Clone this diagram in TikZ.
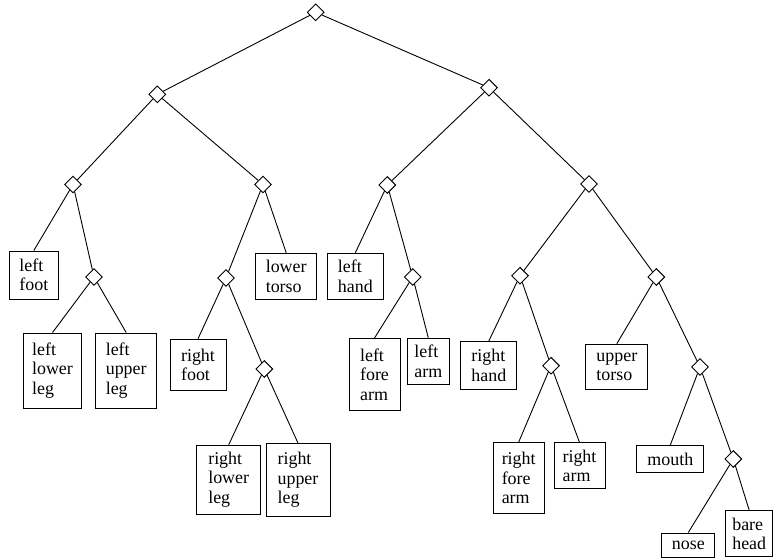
\documentclass[tikz,border=0pt]{standalone}
\usepackage{fontspec}
\setmainfont{Liberation Serif}
\usetikzlibrary{shapes.geometric}
\begin{document}
\begin{tikzpicture}[x=1bp,y=-1bp,
  every path/.style={line width=0.9bp},
  dnode/.style={draw,diamond,inner sep=0pt,minimum width=17bp,minimum height=17bp,line width=0.9bp},
  leaf/.style={draw,rectangle,inner sep=0pt,align=left,line width=0.9bp,font=\fontsize{18}{19.5}\selectfont},
  edge/.style={draw,line width=0.9bp}]
\useasboundingbox (0,0) rectangle (773,558);
% diamonds
\node[dnode] (root) at (315.7,12.3) {};
\node[dnode] (L1) at (157.3,94.3) {};
\node[dnode] (R1) at (489,87.7) {};
\node[dnode] (LL) at (73,184.5) {};
\node[dnode] (LR) at (263,184.5) {};
\node[dnode] (RL) at (387.3,185) {};
\node[dnode] (RR) at (589,184) {};
\node[dnode] (LLR) at (94,277) {};
\node[dnode] (LRL) at (226,278) {};
\node[dnode] (LRLR) at (264.3,369) {};
\node[dnode] (RLR) at (412.7,277) {};
\node[dnode] (RRL) at (520,275.7) {};
\node[dnode] (RRLR) at (551,365.7) {};
\node[dnode] (RRR) at (656.3,277) {};
\node[dnode] (RRRR) at (700,367) {};
\node[dnode] (RRRRR) at (733.3,459) {};
% leaves
\node[leaf,minimum width=49bp,minimum height=48bp] (leftfoot) at (33.8,275) {left\\foot};
\node[leaf,minimum width=58bp,minimum height=75bp] (leftlowerleg) at (52.5,370.5) {left\\lower\\leg};
\node[leaf,minimum width=61bp,minimum height=75bp] (leftupperleg) at (126.2,370.5) {left\\upper\\leg};
\node[leaf,minimum width=61bp,minimum height=46bp] (lowertorso) at (286.2,276.2) {lower\\torso};
\node[leaf,minimum width=56bp,minimum height=51bp] (rightfoot) at (198,364.7) {right\\foot};
\node[leaf,minimum width=64bp,minimum height=69bp] (rightlowerleg) at (228.7,479.7) {right\\lower\\leg};
\node[leaf,minimum width=64bp,minimum height=73bp] (rightupperleg) at (298,480) {right\\upper\\leg};
\node[leaf,minimum width=56bp,minimum height=46bp] (lefthand) at (355.3,276.3) {left\\hand};
\node[leaf,minimum width=51bp,minimum height=72bp] (leftforearm) at (374.5,374.5) {left\\fore\\arm};
\node[leaf,minimum width=42bp,minimum height=46bp] (leftarm) at (428.3,361.3) {left\\arm};
\node[leaf,minimum width=56bp,minimum height=48bp] (righthand) at (488.8,365.5) {right\\hand};
\node[leaf,minimum width=51bp,minimum height=71bp] (rightforearm) at (518.7,478) {right\\fore\\arm};
\node[leaf,minimum width=51bp,minimum height=46bp] (rightarm) at (579.5,465.8) {right\\arm};
\node[leaf,minimum width=62bp,minimum height=45bp] (uppertorso) at (616.8,366.7) {upper\\torso};
\node[leaf,minimum width=67bp,minimum height=27bp] (mouth) at (670.3,459) {mouth};
\node[leaf,minimum width=53bp,minimum height=24bp] (nose) at (688.3,545) {nose};
\node[leaf,minimum width=47bp,minimum height=46bp] (barehead) at (749.2,533.7) {bare\\head};
% edges
\draw[edge] (root) -- (L1);
\draw[edge] (root) -- (R1);
\draw[edge] (L1) -- (LL);
\draw[edge] (L1) -- (LR);
\draw[edge] (LL) -- (leftfoot.north);
\draw[edge] (LL) -- (LLR);
\draw[edge] (LLR) -- (leftlowerleg.north);
\draw[edge] (LLR) -- (leftupperleg.north);
\draw[edge] (LR) -- (LRL);
\draw[edge] (LR) -- (lowertorso.north);
\draw[edge] (LRL) -- (rightfoot.north);
\draw[edge] (LRL) -- (LRLR);
\draw[edge] (LRLR) -- (rightlowerleg.north);
\draw[edge] (LRLR) -- (rightupperleg.north);
\draw[edge] (R1) -- (RL);
\draw[edge] (R1) -- (RR);
\draw[edge] (RL) -- (lefthand.north);
\draw[edge] (RL) -- (RLR);
\draw[edge] (RLR) -- (leftforearm.north);
\draw[edge] (RLR) -- (leftarm.north);
\draw[edge] (RR) -- (RRL);
\draw[edge] (RR) -- (RRR);
\draw[edge] (RRL) -- (righthand.north);
\draw[edge] (RRL) -- (RRLR);
\draw[edge] (RRLR) -- (rightforearm.north);
\draw[edge] (RRLR) -- (rightarm.north);
\draw[edge] (RRR) -- (uppertorso.north);
\draw[edge] (RRR) -- (RRRR);
\draw[edge] (RRRR) -- (mouth.north);
\draw[edge] (RRRR) -- (RRRRR);
\draw[edge] (RRRRR) -- (nose.north);
\draw[edge] (RRRRR) -- (barehead.north);
\end{tikzpicture}
\end{document}
